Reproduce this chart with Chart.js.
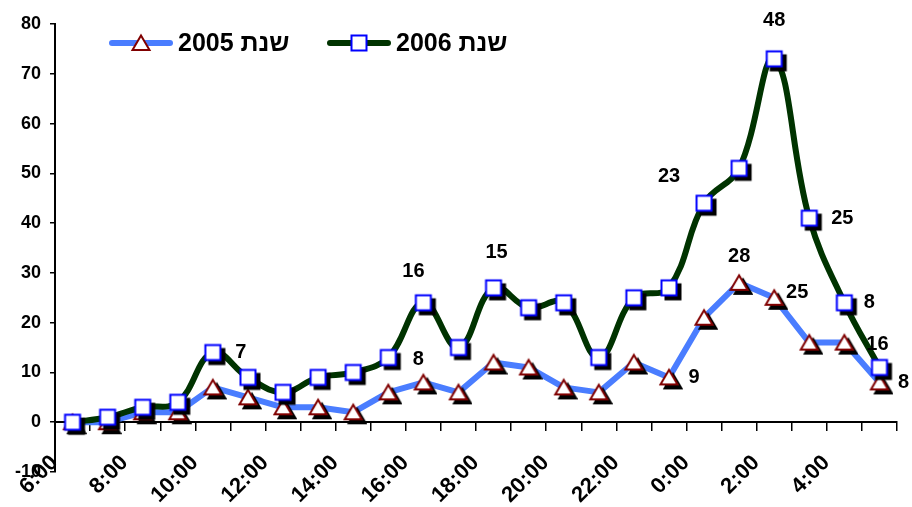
<!DOCTYPE html>
<html>
<head>
<meta charset="utf-8">
<script src="https://cdn.jsdelivr.net/npm/chart.js@4.4.1/dist/chart.umd.min.js"></script>
<style>
  html, body { margin: 0; padding: 0; background: #fff; }
  #wrap { width: 912px; height: 507px; }
</style>
</head>
<body>
<div id="wrap"><canvas id="visitsChart" width="912" height="507"></canvas></div>
<script>
// ── Data ──
const hours = ['6:00', '7:00', '8:00', '9:00', '10:00', '11:00', '12:00', '13:00', '14:00', '15:00', '16:00', '17:00',
  '18:00', '19:00', '20:00', '21:00', '22:00', '23:00', '0:00', '1:00', '2:00', '3:00', '4:00', '5:00'];
const values2005 = [0, 0, 2, 2, 7, 5, 3, 3, 2, 6, 8, 6, 12, 11, 7, 6, 12, 9, 21, 28, 25, 16, 16, 8];
const values2006 = [0, 1, 3, 4, 14, 9, 6, 9, 10, 13, 24, 15, 27, 23, 24, 13, 25, 27, 44, 51, 73, 41, 24, 11];
const labels2005 = ['', '', '', '', '', '', '', '', '', '', '8', '', '', '', '', '', '', '9', '', '28', '25', '', '', '8'];
const labels2006 = ['', '', '', '', '7', '', '', '', '', '', '16', '', '15', '', '', '', '', '', '23', '', '48', '25', '8', '16'];
const seriesNames = ['שנת 2005', 'שנת 2006'];
const yMin = -10, yMax = 80, yStep = 10;

const FONT = "'Liberation Sans', Arial, sans-serif";
const BLUE_LINE = '#4a7dff';
const GREEN_LINE = '#003300';

// ── Marker images (Excel style, with black drop shadow) ──
function markerCanvas(kind, shadow) {
  const c = document.createElement('canvas');
  c.width = c.height = 28;
  const g = c.getContext('2d');
  const shape = (ox, oy) => {
    g.beginPath();
    if (kind === 'square') {
      g.rect(14 - 7.5 + ox, 14 - 7.5 + oy, 15, 15);
    } else {
      g.moveTo(14 + ox, 14 - 7.5 + oy);
      g.lineTo(14 + 8.5 + ox, 14 + 7 + oy);
      g.lineTo(14 - 8.5 + ox, 14 + 7 + oy);
      g.closePath();
    }
  };
  if (shadow) {
    shape(4, 4);
    g.fillStyle = '#000';
    g.fill();
    g.lineWidth = 2;
    g.strokeStyle = '#000';
    g.stroke();
  }
  shape(0, 0);
  g.fillStyle = '#fff';
  g.fill();
  g.lineWidth = 2;
  g.strokeStyle = kind === 'square' ? '#0000ff' : '#800000';
  g.stroke();
  return c;
}
const squareMark = markerCanvas('square', true);
const triangleMark = markerCanvas('triangle', true);
const squareLegend = markerCanvas('square', false);
const triangleLegend = markerCanvas('triangle', false);

// ── Value labels next to points ──
const labelOffsets = {
  0: { 4: [28, 0], 10: [-10, -31], 12: [3, -35], 18: [-35, -27], 20: [0, -38], 21: [33, 0], 22: [25, 0], 23: [-2, -23] },
  1: { 10: [-5, -23], 17: [25, 0], 19: [0, -26], 20: [23, -5], 23: [24, 0] }
};
const valueLabels = {
  id: 'valueLabels',
  afterDatasetsDraw(chart) {
    const ctx = chart.ctx;
    ctx.save();
    ctx.font = 'bold 20px ' + FONT;
    ctx.fillStyle = '#000';
    ctx.textAlign = 'center';
    ctx.textBaseline = 'middle';
    chart.data.datasets.forEach((ds, di) => {
      const meta = chart.getDatasetMeta(di);
      ds.pointLabels.forEach((txt, i) => {
        if (!txt) return;
        const pt = meta.data[i];
        const off = labelOffsets[di][i] || [0, -24];
        ctx.fillText(txt, pt.x + off[0], pt.y + off[1]);
      });
    });
    ctx.restore();
  }
};

// ── Rotated hour labels under the zero line, every second hour ──
const hourLabels = {
  id: 'hourLabels',
  afterDraw(chart) {
    const { ctx, scales: { x, y } } = chart;
    const axisY = y.getPixelForValue(0);
    ctx.save();
    ctx.font = 'bold 22px ' + FONT;
    ctx.fillStyle = '#000';
    ctx.textAlign = 'right';
    ctx.textBaseline = 'middle';
    hours.forEach((h, i) => {
      if (i % 2) return;
      ctx.save();
      ctx.translate(x.getPixelForValue(i) - 18, axisY + 37);
      ctx.rotate(-Math.PI / 4);
      ctx.fillText(h, 0, 0);
      ctx.restore();
    });
    ctx.restore();
  }
};

// ── Legend (line + marker + text) ──
const legendBox = {
  id: 'legendBox',
  afterDraw(chart) {
    const ctx = chart.ctx;
    const items = [
      { x: 112, color: BLUE_LINE, mark: triangleLegend, text: seriesNames[0] },
      { x: 330, color: GREEN_LINE, mark: squareLegend, text: seriesNames[1] }
    ];
    const y = 43;
    ctx.save();
    items.forEach(it => {
      ctx.beginPath();
      ctx.moveTo(it.x, y);
      ctx.lineTo(it.x + 58, y);
      ctx.strokeStyle = it.color;
      ctx.lineWidth = 6;
      ctx.lineCap = 'round';
      ctx.stroke();
      ctx.drawImage(it.mark, it.x + 29 - 14, y - 14);
      ctx.font = 'bold 25px ' + FONT;
      ctx.fillStyle = '#000';
      ctx.textAlign = 'left';
      ctx.textBaseline = 'middle';
      ctx.fillText(it.text, it.x + 66, y + 1);
    });
    ctx.restore();
  }
};

new Chart(document.getElementById('visitsChart'), {
  type: 'line',
  data: {
    labels: hours,
    datasets: [
      {
        label: seriesNames[1],
        data: values2006,
        pointLabels: labels2006,
        borderColor: GREEN_LINE,
        borderWidth: 6,
        tension: 0.4,
        borderCapStyle: 'round',
        borderJoinStyle: 'round',
        pointStyle: squareMark,
        pointRadius: 8,
        fill: false
      },
      {
        label: seriesNames[0],
        data: values2005,
        pointLabels: labels2005,
        borderColor: BLUE_LINE,
        borderWidth: 6,
        tension: 0,
        borderCapStyle: 'round',
        borderJoinStyle: 'round',
        pointStyle: triangleMark,
        pointRadius: 8,
        fill: false
      }
    ]
  },
  options: {
    responsive: false,
    animation: false,
    layout: { padding: { top: 24, right: 15, left: 0, bottom: 35 } },
    plugins: {
      legend: { display: false },
      tooltip: { enabled: false }
    },
    scales: {
      x: {
        position: { y: 0 },
        offset: true,
        grid: { display: true, offset: true, drawOnChartArea: false, drawTicks: true, tickLength: 8, color: '#000', lineWidth: 1.5 },
        border: { display: true, color: '#000', width: 2 },
        ticks: { display: false, autoSkip: false }
      },
      y: {
        min: yMin,
        max: yMax,
        grid: { display: true, drawOnChartArea: false, drawTicks: true, tickLength: 5, color: '#000', lineWidth: 1.5 },
        border: { display: true, color: '#000', width: 2 },
        ticks: {
          stepSize: yStep,
          padding: 9,
          color: '#000',
          font: { family: FONT, size: 18, weight: 'bold' }
        },
        afterFit: s => { s.width = 55; }
      }
    }
  },
  plugins: [valueLabels, hourLabels, legendBox]
});
</script>
</body>
</html>
